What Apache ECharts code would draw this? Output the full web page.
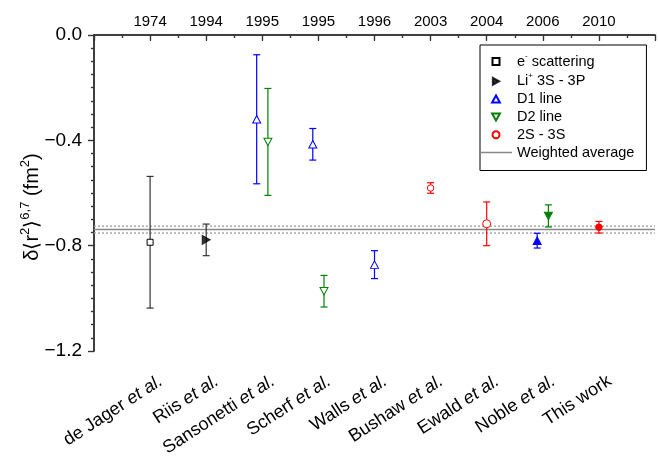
<!DOCTYPE html>
<html>
<head>
<meta charset="utf-8">
<script src="https://cdn.jsdelivr.net/npm/echarts@6/dist/echarts.min.js"></script>
<style>
  html, body { margin: 0; padding: 0; background: #fff; }
  #chart { width: 658px; height: 464px; }
</style>
</head>
<body>
<div id="chart"></div>
<script>
// Studies along the x axis, left to right, and their publication years (top axis)
const studies = ['de Jager', 'Riis', 'Sansonetti', 'Scherf', 'Walls', 'Bushaw', 'Ewald', 'Noble', 'This work'];
const years = ['1974', '1994', '1995', '1995', '1996', '2003', '2004', '2006', '2010'];
const yTicks = [0, -0.4, -0.8, -1.2];

// Charge-radius difference δ<r²>^{6,7} (fm²) with 1σ uncertainties, per method
const eScatStudy = ['de Jager'];
const eScatVal = [-0.787];
const eScatErr = [0.25];

const liStudy = ['Riis'];
const liVal = [-0.778];
const liErr = [0.06];

const d1Study = ['Sansonetti', 'Scherf', 'Walls', 'Noble'];
const d1Val = [-0.32, -0.415, -0.872, -0.781];
const d1Err = [0.245, 0.06, 0.053, 0.028];

const d2Study = ['Sansonetti', 'Scherf', 'Noble'];
const d2Val = [-0.406, -0.973, -0.687];
const d2Err = [0.203, 0.06, 0.042];

const s2s3Study = ['Bushaw', 'Ewald', 'This work'];
const s2s3Val = [-0.581, -0.717, -0.73];
const s2s3Err = [0.02, 0.083, 0.022];

// Weighted average of all results and its uncertainty band
const weightedAvg = -0.739;
const weightedAvgErr = 0.013;

// Recent measurements drawn with filled markers
const filledStudies = ['Noble', 'This work'];

const FONT = '"Liberation Sans", Arial, sans-serif';
const AXIS_COLOR = '#333';

// x position of a study; D1/D2 results from the same study sit side by side
function xPos(study, shift) {
  const base = studies.indexOf(study) + 1;
  const shared = d1Study.includes(study) && d2Study.includes(study);
  return shared ? base + shift : base;
}

function points(studyArr, valArr, errArr, shift) {
  return studyArr.map((s, i) => [xPos(s, shift), valArr[i], errArr[i], s]);
}

const eScatPts = points(eScatStudy, eScatVal, eScatErr, 0);
const liPts = points(liStudy, liVal, liErr, 0);
const d1Pts = points(d1Study, d1Val, d1Err, -0.1);
const d2Pts = points(d2Study, d2Val, d2Err, 0.1);
const s2s3Pts = points(s2s3Study, s2s3Val, s2s3Err, 0);

// Vertical error bar with short caps
function errorBars(pts, color) {
  return {
    type: 'custom',
    xAxisIndex: 0,
    yAxisIndex: 0,
    z: 3,
    silent: true,
    encode: { x: 0, y: 1 },
    data: pts.map(p => [p[0], p[1], p[2]]),
    renderItem: function (params, api) {
      const x = api.value(0), y = api.value(1), e = api.value(2);
      const a = api.coord([x, y + e]);
      const b = api.coord([x, y - e]);
      const cap = 3.5;
      const style = { stroke: color, lineWidth: 1.2, fill: null };
      return {
        type: 'group',
        children: [
          { type: 'line', shape: { x1: a[0], y1: a[1], x2: b[0], y2: b[1] }, style: style },
          { type: 'line', shape: { x1: a[0] - cap, y1: a[1], x2: a[0] + cap, y2: a[1] }, style: style },
          { type: 'line', shape: { x1: b[0] - cap, y1: b[1], x2: b[0] + cap, y2: b[1] }, style: style }
        ]
      };
    }
  };
}

// Marker series: open symbols, filled for recent measurements
function markers(name, pts, color, symbol, size, sizeFor) {
  return {
    name: name,
    type: 'scatter',
    xAxisIndex: 0,
    yAxisIndex: 0,
    z: 4,
    symbol: symbol,
    symbolSize: size,
    itemStyle: { color: '#fff', borderColor: color, borderWidth: 1, opacity: 1 },
    emphasis: { disabled: true },
    data: pts.map(p => {
      const item = { value: [p[0], p[1]] };
      if (filledStudies.includes(p[3])) item.itemStyle = { color: color };
      if (sizeFor) item.symbolSize = sizeFor(p[3]);
      return item;
    })
  };
}

const SQUARE = 'path://M0,0L10,0L10,10L0,10Z';
const UP_TRI = 'path://M5,0L10,9L0,9Z';
const DOWN_TRI = 'path://M0,0L10,0L5,9Z';
const RIGHT_TRI = 'path://M0,0L9,5L0,10Z';
const LEGEND_LINE = 'path://M0,0L32,0L32,1.5L0,1.5Z';

const legendLabels = {
  'e- scattering': '{t|e}{s|-}{t| scattering}',
  'Li+ 3S - 3P': '{t|Li}{s|+}{t| 3S - 3P}',
  'D1 line': '{t|D1 line}',
  'D2 line': '{t|D2 line}',
  '2S - 3S': '{t|2S - 3S}',
  'Weighted average': '{t|Weighted average}'
};

function hLine(name, y, color, type, z) {
  return {
    name: name,
    type: 'line',
    xAxisIndex: 0,
    yAxisIndex: 0,
    z: z,
    symbol: 'none',
    silent: true,
    itemStyle: { color: color },
    lineStyle: { color: color, width: 1.5, type: type },
    data: [[0, y], [10, y]]
  };
}

const xBase = {
  type: 'value',
  min: 0,
  max: 10,
  interval: 1,
  splitLine: { show: false },
  axisLine: { show: true, lineStyle: { color: AXIS_COLOR, width: 1.5 } },
  axisTick: { show: true, length: 6, lineStyle: { color: AXIS_COLOR, width: 1.2 } },
  minorTick: { show: true, splitNumber: 2, length: 3, lineStyle: { color: AXIS_COLOR, width: 1.2 } }
};

const yBase = {
  type: 'value',
  min: -1.2,
  max: 0,
  interval: 0.4,
  splitLine: { show: false },
  axisLine: { show: true, lineStyle: { color: AXIS_COLOR, width: 1.5 } },
  axisTick: { show: true, length: 6, lineStyle: { color: AXIS_COLOR, width: 1.2 } },
  minorTick: { show: true, splitNumber: 8, length: 3, lineStyle: { color: AXIS_COLOR, width: 1.2 } }
};

const chart = echarts.init(document.getElementById('chart'), null, { renderer: 'canvas' });

chart.setOption({
  backgroundColor: '#fff',
  animation: false,
  textStyle: { fontFamily: FONT },
  grid: { left: 94, right: -1, top: 35, bottom: 113 },
  legend: {
    orient: 'vertical',
    left: 480,
    top: 45,
    padding: [7, 12, 10.5, 0],
    borderColor: '#000',
    borderWidth: 1,
    borderRadius: 0,
    backgroundColor: '#fff',
    itemWidth: 32,
    itemHeight: 7,
    itemGap: 2.8,
    selectedMode: false,
    data: Object.keys(legendLabels).map(n =>
      n === 'Weighted average'
        ? { name: n, icon: LEGEND_LINE, itemStyle: { color: '#888' } }
        : { name: n }
    ),
    formatter: name => legendLabels[name],
    textStyle: {
      color: '#000',
      fontFamily: FONT,
      fontSize: 14.5,
      rich: {
        t: { fontSize: 14.5, lineHeight: 16, fontFamily: FONT, color: '#000' },
        s: { fontSize: 8, height: 5, verticalAlign: 'top', fontFamily: FONT, color: '#000' }
      }
    }
  },
  xAxis: [
    Object.assign({}, xBase, {
      position: 'bottom',
      axisLabel: { show: false }
    }),
    Object.assign({}, xBase, {
      position: 'top',
      axisTick: Object.assign({}, xBase.axisTick, { inside: true, length: 5 }),
      axisLabel: {
        show: true,
        margin: 6,
        fontSize: 15,
        color: '#000',
        fontFamily: FONT,
        formatter: v => years[Math.round(v) - 1] || ''
      }
    }),
    {
      // study names, rotated under the bottom axis
      type: 'value',
      position: 'bottom',
      min: -0.106,
      max: 9.894,
      splitLine: { show: false },
      axisLine: { show: false },
      axisTick: { show: false },
      axisLabel: {
        show: true,
        customValues: studies.map((s, i) => i + 1),
        rotate: 33,
        align: 'right',
        verticalAlign: 'top',
        margin: 21,
        fontSize: 18,
        color: '#000',
        fontFamily: FONT,
        formatter: v => {
          const s = studies[Math.round(v) - 1];
          if (!s) return '';
          return s === 'This work' ? '{n|This work}' : '{n|' + s + ' }{i|et al.}';
        },
        rich: {
          n: { fontSize: 18, fontFamily: FONT, color: '#000' },
          i: { fontSize: 18, fontFamily: FONT, fontStyle: 'italic', color: '#000' }
        }
      }
    }
  ],
  yAxis: [
    Object.assign({}, yBase, {
      position: 'left',
      name: '{m|δ⟨r}{s|2}{m|⟩}{s|6,7}{m| (fm}{s|2}{m|)}',
      nameLocation: 'middle',
      nameRotate: 90,
      nameGap: 50,
      nameMoveOverlap: false,
      nameTextStyle: {
        color: '#000',
        padding: [0, 28, 0, 0],
        rich: {
          m: { fontSize: 20, lineHeight: 24, fontFamily: FONT, color: '#000' },
          s: { fontSize: 13, height: 10, verticalAlign: 'top', fontFamily: FONT, color: '#000' }
        }
      },
      axisLabel: {
        show: true,
        margin: 12,
        fontSize: 19,
        color: '#000',
        fontFamily: FONT,
        customValues: yTicks,
        formatter: v => v.toFixed(1).replace('-', '\u2212')
      }
    }),
    Object.assign({}, yBase, {
      position: 'right',
      axisTick: Object.assign({}, yBase.axisTick, { inside: true }),
      axisLabel: { show: false }
    })
  ],
  series: [
    hLine('Weighted average', weightedAvg, '#888', 'solid', 1),
    hLine('avg+', weightedAvg + weightedAvgErr, '#aaa', [2, 2], 1),
    hLine('avg-', weightedAvg - weightedAvgErr, '#aaa', [2, 2], 1),

    errorBars(eScatPts, '#333'),
    errorBars(liPts, '#333'),
    errorBars(d1Pts, '#0000ff'),
    errorBars(d2Pts, '#008000'),
    errorBars(s2s3Pts, '#ff0000'),

    markers('e- scattering', eScatPts, '#000', SQUARE, 6),
    Object.assign(markers('Li+ 3S - 3P', liPts, '#000', RIGHT_TRI, [8, 9]), {
      itemStyle: { color: '#000', borderColor: '#000', borderWidth: 1 }
    }),
    markers('D1 line', d1Pts, '#0000ff', UP_TRI, [8, 7.5]),
    markers('D2 line', d2Pts, '#008000', DOWN_TRI, [8, 7.5]),
    markers('2S - 3S', s2s3Pts, '#ff0000', 'circle', 6.5, s => (s === 'Ewald' ? 8 : 6.5))
  ]
});
</script>
</body>
</html>
